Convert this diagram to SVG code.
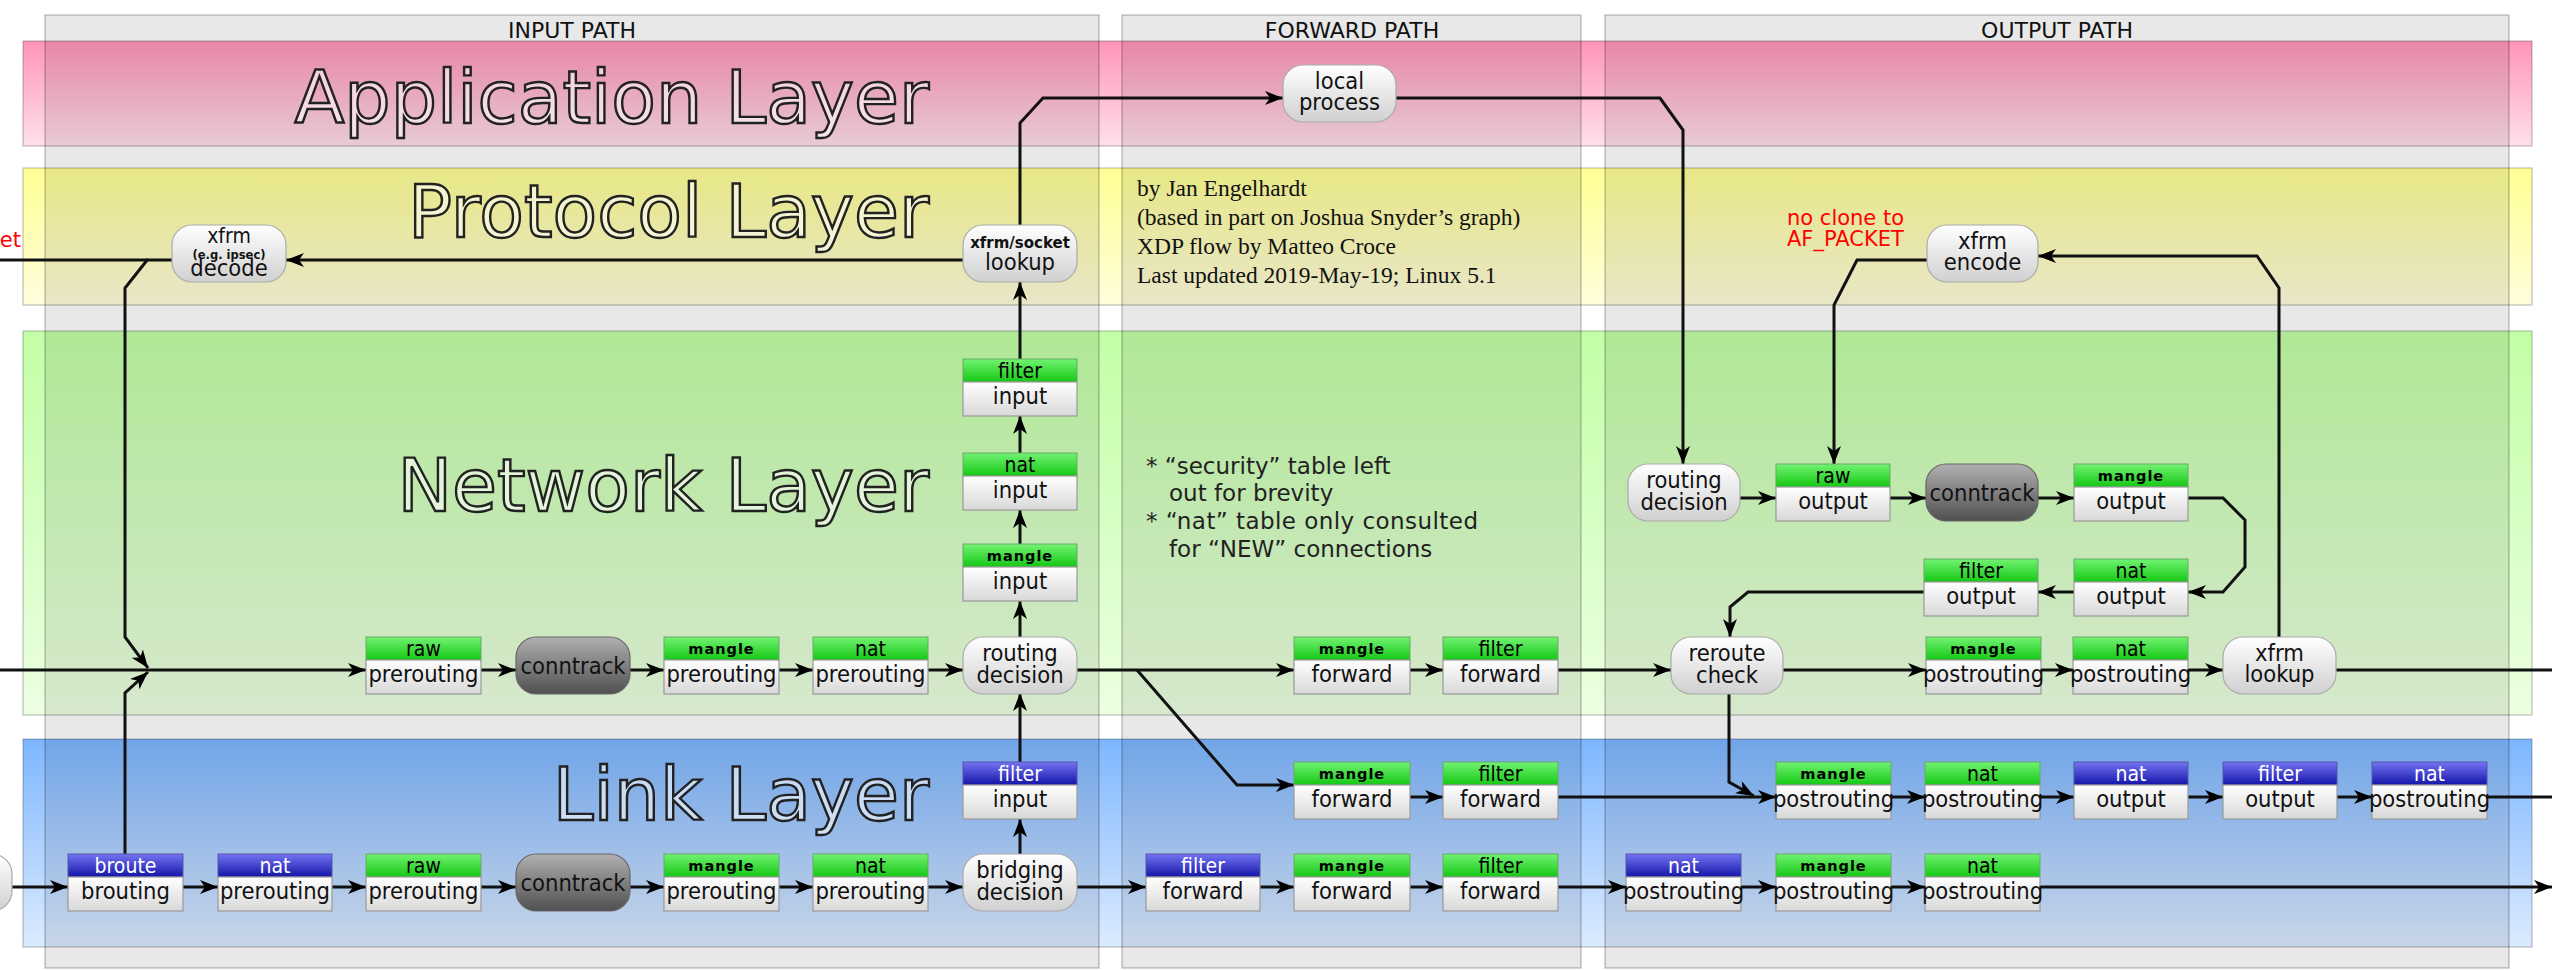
<svg xmlns="http://www.w3.org/2000/svg" width="2552" height="971" viewBox="0 0 2552 971">
<defs>
<linearGradient id="gPink" x1="0" y1="0" x2="0" y2="1"><stop offset="0" stop-color="#ff94ba"/><stop offset="1" stop-color="#ffe0ea"/></linearGradient>
<linearGradient id="gYel" x1="0" y1="0" x2="0" y2="1"><stop offset="0" stop-color="#ffff94"/><stop offset="1" stop-color="#fffddc"/></linearGradient>
<linearGradient id="gGrn" x1="0" y1="0" x2="0" y2="1"><stop offset="0" stop-color="#c2ffa6"/><stop offset="1" stop-color="#ecffe2"/></linearGradient>
<linearGradient id="gBlu" x1="0" y1="0" x2="0" y2="1"><stop offset="0" stop-color="#7db6ff"/><stop offset="1" stop-color="#dcebff"/></linearGradient>
<linearGradient id="gHG" x1="0" y1="0" x2="0" y2="1"><stop offset="0" stop-color="#72f272"/><stop offset="1" stop-color="#14c814"/></linearGradient>
<linearGradient id="gHB" x1="0" y1="0" x2="0" y2="1"><stop offset="0" stop-color="#7474f2"/><stop offset="1" stop-color="#1414a8"/></linearGradient>
<linearGradient id="gBody" x1="0" y1="0" x2="0" y2="1"><stop offset="0" stop-color="#ffffff"/><stop offset="1" stop-color="#d8d8d8"/></linearGradient>
<linearGradient id="gRnd" x1="0" y1="0" x2="0" y2="1"><stop offset="0" stop-color="#ffffff"/><stop offset="1" stop-color="#d0d0d0"/></linearGradient>
<linearGradient id="gCT" x1="0" y1="0" x2="0" y2="1"><stop offset="0" stop-color="#b0b0b0"/><stop offset="1" stop-color="#505050"/></linearGradient>
<marker id="ah" viewBox="0 0 18 14" markerWidth="18" markerHeight="14" refX="18" refY="7" orient="auto" markerUnits="userSpaceOnUse"><path d="M0,0 L18,7 L0,14 L5,7 Z" fill="#000"/></marker>
<style>
.band{stroke:#000;stroke-opacity:.2;stroke-width:1.5}
.col{fill:#000;fill-opacity:.09;stroke:#000;stroke-opacity:.22;stroke-width:1.5}
text{font-family:"DejaVu Sans Condensed","DejaVu Sans",sans-serif;font-stretch:condensed}
.ptitle{font-family:"DejaVu Sans",sans-serif;font-stretch:normal;font-size:22px;text-anchor:middle;fill:#111}
.ltitle{font-family:"DejaVu Sans",sans-serif;font-stretch:normal;font-size:73px;text-anchor:end;fill:#fff;fill-opacity:.55;stroke:#222;stroke-width:2.4}
.hg{fill:url(#gHG);stroke:#6a6;stroke-width:1}
.hb{fill:url(#gHB);stroke:#55a;stroke-width:1}
.bd{fill:url(#gBody);stroke:#999;stroke-width:1.2}
.rn{fill:url(#gRnd);stroke:#aaa;stroke-width:1.2}
.ct{fill:url(#gCT);stroke:#666;stroke-width:1.2}
.ht{font-size:21px;text-anchor:middle;fill:#000}
.hw{font-size:21px;text-anchor:middle;fill:#fff}
.hm{font-family:"DejaVu Sans",sans-serif;font-stretch:normal;font-weight:bold;font-size:14.5px;letter-spacing:1px;text-anchor:middle;fill:#000}
.bt{font-size:23.5px;text-anchor:middle;fill:#111}
.sm{font-family:"DejaVu Sans",sans-serif;font-stretch:normal;font-weight:bold;font-size:15px;text-anchor:middle;fill:#111}
.xs{font-family:"DejaVu Sans",sans-serif;font-stretch:normal;font-weight:bold;font-size:11.5px;text-anchor:middle;fill:#111}
.red{font-family:"DejaVu Sans",sans-serif;font-stretch:normal;font-size:21px;fill:#f00}
.note{font-family:"DejaVu Sans",sans-serif;font-stretch:normal;font-size:23px;fill:#222}
.credit{font-family:"Liberation Serif",serif;font-stretch:normal;font-size:23.5px;fill:#111}
.e{fill:none;stroke:#111;stroke-width:3}
.a{marker-end:url(#ah)}
</style>
</defs>

<g id="layers">
<rect class="band" x="23" y="41" width="2509" height="105" fill="url(#gPink)"/>
<rect class="band" x="23" y="168" width="2509" height="137" fill="url(#gYel)"/>
<rect class="band" x="23" y="331" width="2509" height="384" fill="url(#gGrn)"/>
<rect class="band" x="23" y="739" width="2509" height="208" fill="url(#gBlu)"/>
</g>
<g id="paths">
<rect class="col" x="45" y="15" width="1054" height="953"/>
<rect class="col" x="1122" y="15" width="459" height="953"/>
<rect class="col" x="1605" y="15" width="904" height="953"/>
<text class="ptitle" x="572" y="38">INPUT PATH</text>
<text class="ptitle" x="1352" y="38">FORWARD PATH</text>
<text class="ptitle" x="2057" y="38">OUTPUT PATH</text>
</g>
<g id="layer-titles">
<text class="ltitle" x="929" y="123">Application Layer</text>
<text class="ltitle" x="929" y="237">Protocol Layer</text>
<text class="ltitle" x="929" y="511">Network Layer</text>
<text class="ltitle" x="929" y="820">Link Layer</text>
</g>
<g id="notes">
<text class="red" x="21" y="247" text-anchor="end">et</text>
<text class="red" x="1787" y="225">no clone to</text>
<text class="red" x="1787" y="246">AF_PACKET</text>
<text class="credit" x="1137" y="196">by Jan Engelhardt</text>
<text class="credit" x="1137" y="225">(based in part on Joshua Snyder’s graph)</text>
<text class="credit" x="1137" y="254">XDP flow by Matteo Croce</text>
<text class="credit" x="1137" y="283">Last updated 2019-May-19; Linux 5.1</text>
<text class="note" x="1146" y="474">* “security” table left</text>
<text class="note" x="1169" y="501">out for brevity</text>
<text class="note" x="1146" y="529" textLength="332" lengthAdjust="spacing">* “nat” table only consulted</text>
<text class="note" x="1169" y="557">for “NEW” connections</text>
</g>

<g id="connectors">
<path class="e a" d="M0,670 H366"/>
<path class="e a" d="M481,670 H516"/>
<path class="e a" d="M630,670 H664"/>
<path class="e a" d="M779,670 H813"/>
<path class="e a" d="M928,670 H963"/>
<path class="e a" d="M1020,637 V601"/>
<path class="e a" d="M1020,544 V510"/>
<path class="e a" d="M1020,453 V416"/>
<path class="e a" d="M1020,359 V282"/>
<path class="e a" d="M1020,225 V123 L1043,98 H1283"/>
<path class="e a" d="M963,260 H286"/>
<path class="e" d="M0,260 H172"/>
<path class="e a" d="M148,259 L125,288 V637 L148,668"/>
<path class="e a" d="M125,854 V693 L148,672"/>
<path class="e a" d="M1077,670 H1294"/>
<path class="e a" d="M1137,670 L1237,785 H1294"/>
<path class="e a" d="M1410,670 H1443"/>
<path class="e a" d="M1558,670 H1671"/>
<path class="e a" d="M1783,670 H1926"/>
<path class="e a" d="M2041,670 H2073"/>
<path class="e a" d="M2188,670 H2223"/>
<path class="e" d="M2336,670 H2552"/>
<path class="e a" d="M2279,637 V288 L2257,256 H2038"/>
<path class="e a" d="M1927,260 H1857 L1834,305 V464"/>
<path class="e a" d="M1396,98 H1660 L1683,130 V464"/>
<path class="e a" d="M1740,498 H1776"/>
<path class="e a" d="M1890,498 H1926"/>
<path class="e a" d="M2038,498 H2074"/>
<path class="e a" d="M2188,498 H2223 L2245,520 V567 L2223,592 H2188"/>
<path class="e a" d="M2074,592 H2038"/>
<path class="e a" d="M1924,592 H1748 L1730,607 V637"/>
<path class="e a" d="M1729,693 V782 L1754,796"/>
<path class="e a" d="M1410,797 H1443"/>
<path class="e a" d="M1558,797 H1776"/>
<path class="e a" d="M1891,797 H1925"/>
<path class="e a" d="M2040,797 H2074"/>
<path class="e a" d="M2188,797 H2223"/>
<path class="e a" d="M2337,797 H2372"/>
<path class="e" d="M2487,797 H2552"/>
<path class="e a" d="M12,887 H68"/>
<path class="e a" d="M183,887 H218"/>
<path class="e a" d="M332,887 H366"/>
<path class="e a" d="M481,887 H516"/>
<path class="e a" d="M630,887 H664"/>
<path class="e a" d="M779,887 H813"/>
<path class="e a" d="M928,887 H963"/>
<path class="e a" d="M1020,854 V819"/>
<path class="e a" d="M1020,762 V693"/>
<path class="e a" d="M1077,887 H1146"/>
<path class="e a" d="M1260,887 H1294"/>
<path class="e a" d="M1410,887 H1443"/>
<path class="e a" d="M1558,887 H1626"/>
<path class="e a" d="M1741,887 H1776"/>
<path class="e a" d="M1891,887 H1925"/>
<path class="e a" d="M2040,887 H2552"/>
</g>

<g id="nodes">
<g id="in-raw-pre" transform="translate(366,637)"><rect class="hg" width="115" height="23"/><rect class="bd" y="23" width="115" height="34"/><text class="ht" x="57.5" y="19">raw</text><text class="bt" x="57.5" y="45">prerouting</text></g>
<g id="in-conntrack" transform="translate(516,637)"><rect class="ct" width="114" height="57" rx="20"/><text class="bt" x="57" y="37" fill="#222">conntrack</text></g>
<g id="in-mangle-pre" transform="translate(664,637)"><rect class="hg" width="115" height="23"/><rect class="bd" y="23" width="115" height="34"/><text class="hm" x="57.5" y="17">mangle</text><text class="bt" x="57.5" y="45">prerouting</text></g>
<g id="in-nat-pre" transform="translate(813,637)"><rect class="hg" width="115" height="23"/><rect class="bd" y="23" width="115" height="34"/><text class="ht" x="57.5" y="19">nat</text><text class="bt" x="57.5" y="45">prerouting</text></g>
<g id="in-routing" transform="translate(963,637)"><rect class="rn" width="114" height="57" rx="20"/><text class="bt" x="57" y="24">routing</text><text class="bt" x="57" y="46">decision</text></g>
<g id="in-mangle-input" transform="translate(963,544)"><rect class="hg" width="114" height="23"/><rect class="bd" y="23" width="114" height="34"/><text class="hm" x="57" y="17">mangle</text><text class="bt" x="57" y="45">input</text></g>
<g id="in-nat-input" transform="translate(963,453)"><rect class="hg" width="114" height="23"/><rect class="bd" y="23" width="114" height="34"/><text class="ht" x="57" y="19">nat</text><text class="bt" x="57" y="45">input</text></g>
<g id="in-filter-input" transform="translate(963,359)"><rect class="hg" width="114" height="23"/><rect class="bd" y="23" width="114" height="34"/><text class="ht" x="57" y="19">filter</text><text class="bt" x="57" y="45">input</text></g>
<g id="xfrm-socket" transform="translate(963,225)"><rect class="rn" width="114" height="57" rx="20"/><text class="sm" x="57" y="23">xfrm/socket</text><text class="bt" x="57" y="45">lookup</text></g>
<g id="xfrm-decode" transform="translate(172,225)"><rect class="rn" width="114" height="57" rx="20"/><text class="bt" x="57" y="18" style="font-size:21px">xfrm</text><text class="xs" x="57" y="34">(e.g. ipsec)</text><text class="bt" x="57" y="51">decode</text></g>
<g id="local-process" transform="translate(1283,65)"><rect class="rn" width="113" height="57" rx="20"/><text class="bt" x="56.5" y="24">local</text><text class="bt" x="56.5" y="45">process</text></g>
<g id="ln-left" transform="translate(-100,854)"><rect class="rn" width="112" height="57" rx="20"/></g>
<g id="ln-broute" transform="translate(68,854)"><rect class="hb" width="115" height="23"/><rect class="bd" y="23" width="115" height="34"/><text class="hw" x="57.5" y="19">broute</text><text class="bt" x="57.5" y="45">brouting</text></g>
<g id="ln-nat-pre" transform="translate(218,854)"><rect class="hb" width="114" height="23"/><rect class="bd" y="23" width="114" height="34"/><text class="hw" x="57" y="19">nat</text><text class="bt" x="57" y="45">prerouting</text></g>
<g id="ln-raw-pre" transform="translate(366,854)"><rect class="hg" width="115" height="23"/><rect class="bd" y="23" width="115" height="34"/><text class="ht" x="57.5" y="19">raw</text><text class="bt" x="57.5" y="45">prerouting</text></g>
<g id="ln-conntrack" transform="translate(516,854)"><rect class="ct" width="114" height="57" rx="20"/><text class="bt" x="57" y="37" fill="#222">conntrack</text></g>
<g id="ln-mangle-pre" transform="translate(664,854)"><rect class="hg" width="115" height="23"/><rect class="bd" y="23" width="115" height="34"/><text class="hm" x="57.5" y="17">mangle</text><text class="bt" x="57.5" y="45">prerouting</text></g>
<g id="ln-nat-pre2" transform="translate(813,854)"><rect class="hg" width="115" height="23"/><rect class="bd" y="23" width="115" height="34"/><text class="ht" x="57.5" y="19">nat</text><text class="bt" x="57.5" y="45">prerouting</text></g>
<g id="ln-bridging" transform="translate(963,854)"><rect class="rn" width="114" height="57" rx="20"/><text class="bt" x="57" y="24">bridging</text><text class="bt" x="57" y="46">decision</text></g>
<g id="ln-filter-input" transform="translate(963,762)"><rect class="hb" width="114" height="23"/><rect class="bd" y="23" width="114" height="34"/><text class="hw" x="57" y="19">filter</text><text class="bt" x="57" y="45">input</text></g>
<g id="fw-mangle" transform="translate(1294,637)"><rect class="hg" width="116" height="23"/><rect class="bd" y="23" width="116" height="34"/><text class="hm" x="58" y="17">mangle</text><text class="bt" x="58" y="45">forward</text></g>
<g id="fw-filter" transform="translate(1443,637)"><rect class="hg" width="115" height="23"/><rect class="bd" y="23" width="115" height="34"/><text class="ht" x="57.5" y="19">filter</text><text class="bt" x="57.5" y="45">forward</text></g>
<g id="fwl-mangle" transform="translate(1294,762)"><rect class="hg" width="116" height="23"/><rect class="bd" y="23" width="116" height="34"/><text class="hm" x="58" y="17">mangle</text><text class="bt" x="58" y="45">forward</text></g>
<g id="fwl-filter" transform="translate(1443,762)"><rect class="hg" width="115" height="23"/><rect class="bd" y="23" width="115" height="34"/><text class="ht" x="57.5" y="19">filter</text><text class="bt" x="57.5" y="45">forward</text></g>
<g id="br-filter" transform="translate(1146,854)"><rect class="hb" width="114" height="23"/><rect class="bd" y="23" width="114" height="34"/><text class="hw" x="57" y="19">filter</text><text class="bt" x="57" y="45">forward</text></g>
<g id="br-mangle" transform="translate(1294,854)"><rect class="hg" width="116" height="23"/><rect class="bd" y="23" width="116" height="34"/><text class="hm" x="58" y="17">mangle</text><text class="bt" x="58" y="45">forward</text></g>
<g id="br-filter2" transform="translate(1443,854)"><rect class="hg" width="115" height="23"/><rect class="bd" y="23" width="115" height="34"/><text class="ht" x="57.5" y="19">filter</text><text class="bt" x="57.5" y="45">forward</text></g>
<g id="out-routing" transform="translate(1628,464)"><rect class="rn" width="112" height="57" rx="20"/><text class="bt" x="56" y="24">routing</text><text class="bt" x="56" y="46">decision</text></g>
<g id="out-raw" transform="translate(1776,464)"><rect class="hg" width="114" height="23"/><rect class="bd" y="23" width="114" height="34"/><text class="ht" x="57" y="19">raw</text><text class="bt" x="57" y="45">output</text></g>
<g id="out-conntrack" transform="translate(1926,464)"><rect class="ct" width="112" height="57" rx="20"/><text class="bt" x="56" y="37" fill="#222">conntrack</text></g>
<g id="out-mangle" transform="translate(2074,464)"><rect class="hg" width="114" height="23"/><rect class="bd" y="23" width="114" height="34"/><text class="hm" x="57" y="17">mangle</text><text class="bt" x="57" y="45">output</text></g>
<g id="out-filter" transform="translate(1924,559)"><rect class="hg" width="114" height="23"/><rect class="bd" y="23" width="114" height="34"/><text class="ht" x="57" y="19">filter</text><text class="bt" x="57" y="45">output</text></g>
<g id="out-nat" transform="translate(2074,559)"><rect class="hg" width="114" height="23"/><rect class="bd" y="23" width="114" height="34"/><text class="ht" x="57" y="19">nat</text><text class="bt" x="57" y="45">output</text></g>
<g id="out-reroute" transform="translate(1671,637)"><rect class="rn" width="112" height="57" rx="20"/><text class="bt" x="56" y="24">reroute</text><text class="bt" x="56" y="46">check</text></g>
<g id="out-mangle-post" transform="translate(1926,637)"><rect class="hg" width="115" height="23"/><rect class="bd" y="23" width="115" height="34"/><text class="hm" x="57.5" y="17">mangle</text><text class="bt" x="57.5" y="45">postrouting</text></g>
<g id="out-nat-post" transform="translate(2073,637)"><rect class="hg" width="115" height="23"/><rect class="bd" y="23" width="115" height="34"/><text class="ht" x="57.5" y="19">nat</text><text class="bt" x="57.5" y="45">postrouting</text></g>
<g id="out-xfrm-lookup" transform="translate(2223,637)"><rect class="rn" width="113" height="57" rx="20"/><text class="bt" x="56.5" y="24">xfrm</text><text class="bt" x="56.5" y="45">lookup</text></g>
<g id="out-xfrm-encode" transform="translate(1927,225)"><rect class="rn" width="111" height="57" rx="20"/><text class="bt" x="55.5" y="24">xfrm</text><text class="bt" x="55.5" y="45">encode</text></g>
<g id="ol-mangle-post" transform="translate(1776,762)"><rect class="hg" width="115" height="23"/><rect class="bd" y="23" width="115" height="34"/><text class="hm" x="57.5" y="17">mangle</text><text class="bt" x="57.5" y="45">postrouting</text></g>
<g id="ol-nat-post" transform="translate(1925,762)"><rect class="hg" width="115" height="23"/><rect class="bd" y="23" width="115" height="34"/><text class="ht" x="57.5" y="19">nat</text><text class="bt" x="57.5" y="45">postrouting</text></g>
<g id="ol-nat-out" transform="translate(2074,762)"><rect class="hb" width="114" height="23"/><rect class="bd" y="23" width="114" height="34"/><text class="hw" x="57" y="19">nat</text><text class="bt" x="57" y="45">output</text></g>
<g id="ol-filter-out" transform="translate(2223,762)"><rect class="hb" width="114" height="23"/><rect class="bd" y="23" width="114" height="34"/><text class="hw" x="57" y="19">filter</text><text class="bt" x="57" y="45">output</text></g>
<g id="ol-nat-post2" transform="translate(2372,762)"><rect class="hb" width="115" height="23"/><rect class="bd" y="23" width="115" height="34"/><text class="hw" x="57.5" y="19">nat</text><text class="bt" x="57.5" y="45">postrouting</text></g>
<g id="bo-nat-post" transform="translate(1626,854)"><rect class="hb" width="115" height="23"/><rect class="bd" y="23" width="115" height="34"/><text class="hw" x="57.5" y="19">nat</text><text class="bt" x="57.5" y="45">postrouting</text></g>
<g id="bo-mangle-post" transform="translate(1776,854)"><rect class="hg" width="115" height="23"/><rect class="bd" y="23" width="115" height="34"/><text class="hm" x="57.5" y="17">mangle</text><text class="bt" x="57.5" y="45">postrouting</text></g>
<g id="bo-nat-post2" transform="translate(1925,854)"><rect class="hg" width="115" height="23"/><rect class="bd" y="23" width="115" height="34"/><text class="ht" x="57.5" y="19">nat</text><text class="bt" x="57.5" y="45">postrouting</text></g>
</g>
</svg>
